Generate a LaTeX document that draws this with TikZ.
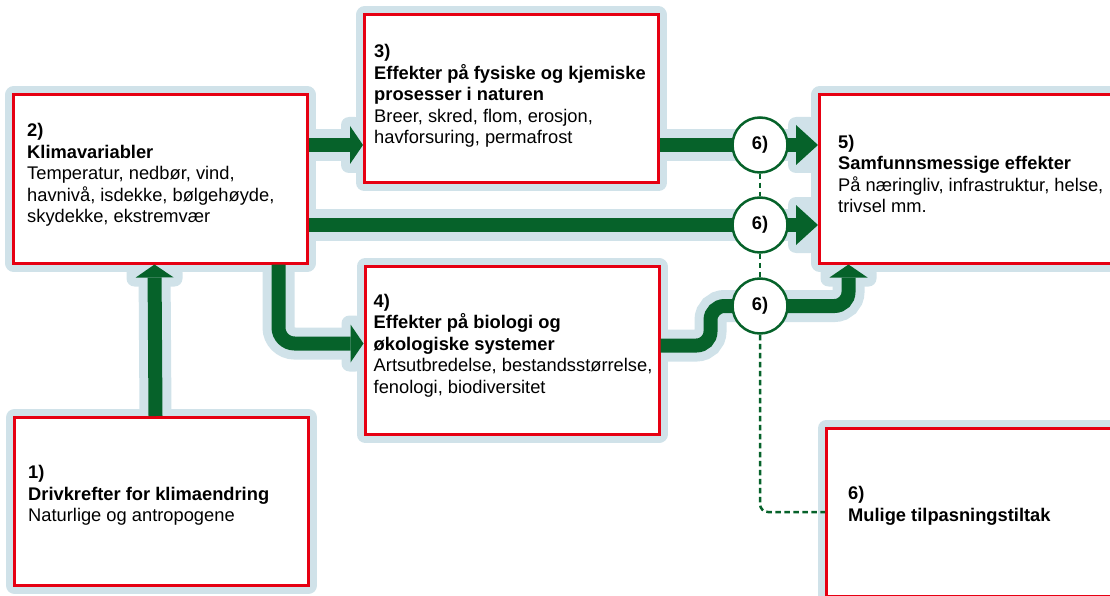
\documentclass[tikz,border=0pt]{standalone}
\usepackage{fontspec}
\setmainfont{Liberation Sans}
\usetikzlibrary{arrows.meta,positioning,calc,backgrounds}
\definecolor{boxRed}{RGB}{230,0,18}
\definecolor{haloBlue}{RGB}{208,226,233}
\definecolor{flowGreen}{RGB}{6,98,42}

\begin{document}
\begin{tikzpicture}[x=1pt,y=-1pt,
    box/.style={draw=boxRed,line width=3pt,fill=white,minimum width=294pt,minimum height=168pt,inner sep=0pt,
      preaction={draw=haloBlue,line width=17pt,line join=round}},
    txt/.style={align=left,inner sep=0pt,font=\fontsize{18.3}{21.5}\selectfont},
    flow/.style={draw=flowGreen,line width=14pt,-{Triangle[width=38pt,length=13pt,line width=0pt]}},
    longflow/.style={flow,-{Triangle[width=40pt,length=22pt,line width=0pt]}},
    glowline/.style={draw=haloBlue,line width=32pt},
    glow/.style={fill=haloBlue,rounded corners=8pt},
    ring/.style={circle,draw=flowGreen,line width=2.5pt,fill=white,minimum size=55pt,inner sep=0pt,
      font=\fontsize{18.3}{21.5}\selectfont\bfseries},
    hint/.style={draw=flowGreen,line width=2.5pt,dash pattern=on 5.5pt off 3.5pt}
  ]
  \useasboundingbox (0,0) rectangle (1110,596);
  \clip (0,0) rectangle (1110,596);

  % where the three 6) rings sit
  \coordinate (k1) at (760,145);
  \coordinate (k2) at (760,225);
  \coordinate (k3) at (760,306);

  % boxes
  \node[box] (b1) at (161.5,501.5) {};
  \node[box] (b2) at (160.5,179) {};
  \node[box] (b3) at (511.5,99) {};
  \node[box] (b4) at (512,350.5) {};
  \node[box] (b5) at (966.5,179) {};
  \node[box] (b6) at (973.5,512) {};

  \node[txt,right=15pt of b1.west,yshift=6pt] (t1) {\textbf{1)}\\\textbf{Drivkrefter for klimaendring}\\Naturlige og antropogene};
  \node[txt,right=15pt of b2.west,yshift=4pt] (t2) {\textbf{2)}\\\textbf{Klimavariabler}\\Temperatur, nedbør, vind,\\havnivå, isdekke, bølgehøyde,\\skydekke, ekstremvær};
  \node[txt,right=11pt of b3.west,yshift=3pt] (t3) {\textbf{3)}\\\textbf{Effekter på fysiske og kjemiske}\\\textbf{prosesser i naturen}\\Breer, skred, flom, erosjon,\\havforsuring, permafrost};
  \node[txt,right=10pt of b4.west,yshift=5pt] (t4) {\textbf{4)}\\\textbf{Effekter på biologi og}\\\textbf{økologiske systemer}\\Artsutbredelse, bestandsstørrelse,\\fenologi, biodiversitet};
  \node[txt,right=20pt of b5.west,yshift=5pt] (t5) {\textbf{5)}\\\textbf{Samfunnsmessige effekter}\\På næringliv, infrastruktur, helse,\\trivsel mm.};
  \node[txt,right=23pt of b6.west,yshift=6pt] (t6) {\textbf{6)}\\\textbf{Mulige tilpasningstiltak}};

  % pale bands under the arrows
  \begin{scope}[on background layer]
    \draw[glowline] ([xshift=-6pt]b1.north) -- ([xshift=-6pt]b2.south);
    \draw[glowline] (b2.east |- k1) -- (b3.west |- k1);
    \draw[glowline] (b2.east |- k2) -- (b5.west |- k2);
    \draw[glowline] (b3.east |- k1) -- (b5.west |- k1);
    \draw[glowline,rounded corners=16pt] ([xshift=118pt]b2.south) |- ([yshift=7pt]b4.west);
    \draw[glowline,rounded corners=14pt] ([yshift=5pt]b4.east) -- ++(50,0) |- (k3) -| ([xshift=-118pt]b5.south);
    \fill[glow] ($(b2.south)+(-34,0)$) rectangle ++(56,22);
    \fill[glow] ($(b3.west |- k1)+(-22,-28)$) rectangle ++(22,56);
    \fill[glow] ($(b4.west)+(-22,-35)$) rectangle ++(22,56);
    \fill[glow] ($(b5.west |- k1)+(-30,-28)$) rectangle ++(30,56);
    \fill[glow] ($(b5.west |- k2)+(-30,-28)$) rectangle ++(30,56);
    \fill[glow] ($(b5.south)+(-146,0)$) rectangle ++(56,22);
  \end{scope}

  % arrows
  \draw[flow] ([xshift=-6pt]b1.north) -- ([xshift=-6pt]b2.south);
  \draw[flow] (b2.east |- k1) -- (b3.west |- k1);
  \draw[longflow] (b2.east |- k2) -- (b5.west |- k2);
  \draw[longflow] (b3.east |- k1) -- (b5.west |- k1);
  \draw[flow,rounded corners=16pt] ([xshift=118pt]b2.south) |- ([yshift=7pt]b4.west);
  \draw[flow,rounded corners=14pt] ([yshift=5pt]b4.east) -- ++(50,0) |- (k3) -| ([xshift=-118pt]b5.south);

  % rings
  \node[ring] (c1) at (k1) {6)};
  \node[ring] (c2) at (k2) {6)};
  \node[ring] (c3) at (k3) {6)};

  \draw[hint] (c1) -- (c2);
  \draw[hint] (c2) -- (c3);
  \draw[hint,rounded corners=8pt] (c3) |- (b6.west);
\end{tikzpicture}
\end{document}
